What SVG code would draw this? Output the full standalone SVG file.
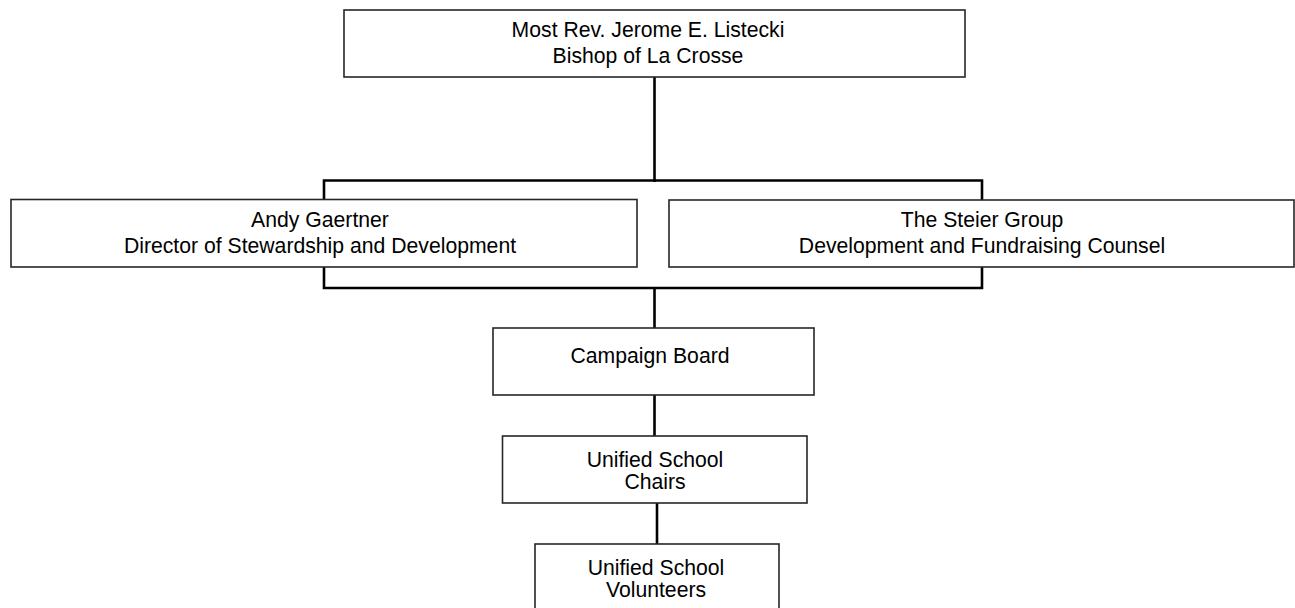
<svg xmlns="http://www.w3.org/2000/svg" width="1295" height="608" viewBox="0 0 1295 608">
<style>
.box{fill:#fff;stroke:#262626;stroke-width:1.6}
.t{font-family:"Liberation Sans",Arial,sans-serif;font-size:21.2px;fill:#000;text-anchor:middle}
.c{fill:none;stroke:#000;stroke-width:2.6}
</style>
<rect width="1295" height="608" fill="#fff"/>
<g id="connectors">
<path class="c" d="M654.5 77 V182"/>
<path class="c" d="M324 199 V180.5 H982 V200"/>
<path class="c" d="M324 267 V288 H982 V267"/>
<path class="c" d="M654.5 288 V328"/>
<path class="c" d="M654.5 395 V436"/>
<path class="c" d="M657 503 V544"/>
</g>
<g id="bishop">
<rect class="box" x="344" y="10" width="621" height="67"/>
<text class="t" x="648" y="37">Most Rev. Jerome E. Listecki</text>
<text class="t" x="648" y="63">Bishop of La Crosse</text>
</g>
<g id="gaertner">
<rect class="box" x="11" y="199.5" width="626" height="67.5"/>
<text class="t" x="320" y="227">Andy Gaertner</text>
<text class="t" x="320" y="253">Director of Stewardship and Development</text>
</g>
<g id="steier">
<rect class="box" x="669" y="200" width="625" height="67"/>
<text class="t" x="982" y="227">The Steier Group</text>
<text class="t" x="982" y="253">Development and Fundraising Counsel</text>
</g>
<g id="board">
<rect class="box" x="493" y="328" width="321" height="67"/>
<text class="t" x="650" y="363">Campaign Board</text>
</g>
<g id="chairs">
<rect class="box" x="502.5" y="436" width="304.5" height="67"/>
<text class="t" x="655" y="467">Unified School</text>
<text class="t" x="655" y="489">Chairs</text>
</g>
<g id="volunteers">
<rect class="box" x="535" y="544" width="244" height="70"/>
<text class="t" x="656" y="575">Unified School</text>
<text class="t" x="656" y="597">Volunteers</text>
</g>
</svg>
